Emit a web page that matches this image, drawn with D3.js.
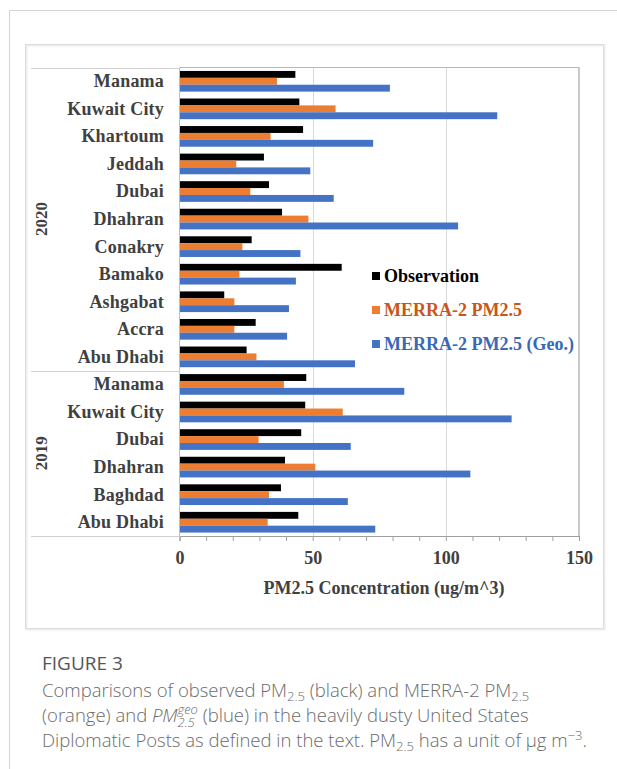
<!DOCTYPE html>
<html>
<head>
<meta charset="utf-8">
<script src="https://cdn.jsdelivr.net/npm/d3@7"></script>
<style>
  body { margin: 0; background: #fff; }
  svg text { white-space: pre; }
</style>
</head>
<body>
<svg id="fig" width="617" height="769"></svg>
<script>
// values (ug/m^3), rows top -> bottom
var cities = ["Manama", "Kuwait City", "Khartoum", "Jeddah", "Dubai", "Dhahran", "Conakry", "Bamako",
  "Ashgabat", "Accra", "Abu Dhabi", "Manama", "Kuwait City", "Dubai", "Dhahran", "Baghdad", "Abu Dhabi"];
var years = ["2020", "2020", "2020", "2020", "2020", "2020", "2020", "2020", "2020", "2020", "2020",
  "2019", "2019", "2019", "2019", "2019", "2019"];
var observation = [43.5, 45.0, 46.4, 31.7, 33.6, 38.5, 27.1, 60.9, 16.8, 28.6, 25.2, 47.6, 47.2, 45.7, 39.6, 38.1, 44.6];
var merra = [36.6, 58.6, 34.2, 21.3, 26.6, 48.4, 23.6, 22.5, 20.6, 20.6, 28.9, 39.2, 61.3, 29.7, 51.0, 33.6, 33.1];
var merraGeo = [79.0, 119.3, 72.7, 49.1, 57.9, 104.6, 45.4, 43.7, 41.1, 40.4, 65.9, 84.4, 124.7, 64.3, 109.2, 63.2, 73.5];
var seriesNames = ["Observation", "MERRA-2 PM2.5", "MERRA-2 PM2.5 (Geo.)"];
var xTicks = [0, 50, 100, 150];

var seriesColors = ["#000000", "#ed7d31", "#4472c4"];
var legendColors = ["#000000", "#c9561a", "#3a68b9"];
var serif = "'Liberation Serif', 'Times New Roman', serif";

var svg = d3.select("#fig");

// page frame + chart container
svg.append("path").attr("d", "M9.5,769 V10.5 H617").attr("fill", "none").attr("stroke", "#d4d4d4");
svg.append("rect").attr("x", 26.5).attr("y", 45.5).attr("width", 578).attr("height", 584)
  .attr("fill", "none").attr("stroke", "#eeeeee").attr("stroke-width", 2);
svg.append("rect").attr("x", 25.5).attr("y", 44.5).attr("width", 578).attr("height", 584)
  .attr("fill", "none").attr("stroke", "#dcdcdc");

var plot = { left: 179.5, right: 579, top: 67.5, bottom: 536 };

var x = d3.scaleLinear().domain([0, 150]).range([plot.left, plot.right]);
var rowKeys = cities.map(function(c, i) { return i; });
var y = d3.scaleBand().domain(rowKeys).range([plot.top, plot.bottom])
  .paddingInner(0.25).paddingOuter(0.125);
var ySeries = d3.scaleBand().domain([0, 1, 2]).range([0, y.bandwidth()]);

// gridlines
svg.append("g").selectAll("line").data([50, 100]).join("line")
  .attr("x1", function(d) { return Math.round(x(d)) + 0.5; })
  .attr("x2", function(d) { return Math.round(x(d)) + 0.5; })
  .attr("y1", plot.top).attr("y2", plot.bottom)
  .attr("stroke", "#d9d9d9");

// plot border
svg.append("line").attr("x1", plot.left).attr("x2", plot.right).attr("y1", plot.top).attr("y2", plot.top)
  .attr("stroke", "#b8b8b8");
svg.append("line").attr("x1", plot.right).attr("x2", plot.right).attr("y1", plot.top).attr("y2", plot.bottom)
  .attr("stroke", "#a6a6a6").attr("stroke-width", 1.2);

// bars
var allSeries = [observation, merra, merraGeo];
allSeries.forEach(function(vals, s) {
  svg.append("g").selectAll("rect").data(vals).join("rect")
    .attr("x", x(0))
    .attr("y", function(d, i) { return y(i) + ySeries(s); })
    .attr("width", function(d) { return x(d) - x(0); })
    .attr("height", ySeries.bandwidth())
    .attr("fill", seriesColors[s]);
});

// x axis, minor ticks every 10, labels at 0/50/100/150
var xAxis = d3.axisBottom(x).tickValues(d3.range(0, 151, 10)).tickSize(5)
  .tickFormat(function(d) { return xTicks.indexOf(d) >= 0 ? d : ""; });
var gx = svg.append("g").attr("transform", "translate(0," + plot.bottom + ")").call(xAxis);
gx.select(".domain").attr("stroke", "#a0a0a0");
gx.selectAll(".tick line").attr("stroke", "#a0a0a0");
gx.selectAll(".tick text").attr("y", 15).attr("dy", "0.71em")
  .style("font-family", serif).style("font-weight", "bold").style("font-size", "18px").attr("fill", "#404040");

svg.append("text").attr("x", 384).attr("y", 594).attr("text-anchor", "middle")
  .style("font-family", serif).style("font-weight", "bold").style("font-size", "18px").attr("fill", "#404040")
  .text("PM2.5 Concentration (ug/m^3)");

// left axis line
svg.append("line").attr("x1", plot.left).attr("x2", plot.left).attr("y1", plot.top).attr("y2", plot.bottom)
  .attr("stroke", "#bfbfbf");

// category labels
svg.append("g").selectAll("text").data(cities).join("text")
  .attr("x", 164)
  .attr("y", function(d, i) { return y(i) + y.bandwidth() / 2; })
  .attr("dy", "0.33em")
  .attr("text-anchor", "end")
  .style("font-family", serif).style("font-weight", "bold").style("font-size", "18px")
  .style("letter-spacing", "0.2px")
  .attr("fill", "#404040")
  .text(function(d) { return d; });

// year groups (multi-level axis)
var groups = [];
years.forEach(function(yr, i) {
  if (groups.length && groups[groups.length - 1].year === yr) groups[groups.length - 1].end = i;
  else groups.push({ year: yr, start: i, end: i });
});
var step = y.step();
var sepY = [plot.top];
groups.forEach(function(g) { sepY.push(plot.top + (g.end + 1) * step); });
svg.append("g").selectAll("line").data(sepY).join("line")
  .attr("x1", 31).attr("x2", plot.left)
  .attr("y1", function(d) { return Math.round(d) + 0.5; })
  .attr("y2", function(d) { return Math.round(d) + 0.5; })
  .attr("stroke", "#d0d0d0");
svg.append("g").selectAll("text").data(groups).join("text")
  .attr("transform", function(g) {
    var cy = plot.top + (g.start + g.end + 1) / 2 * step;
    return "translate(47," + cy + ") rotate(-90)";
  })
  .attr("text-anchor", "middle")
  .style("font-family", serif).style("font-weight", "bold").style("font-size", "17px")
  .attr("fill", "#404040")
  .text(function(g) { return g.year; });

// legend
var legendY = [276, 310, 344];
var lg = svg.append("g").selectAll("g").data(seriesNames).join("g")
  .attr("transform", function(d, i) { return "translate(372," + legendY[i] + ")"; });
lg.append("rect").attr("x", 0).attr("y", -4).attr("width", 8).attr("height", 8)
  .attr("fill", function(d, i) { return seriesColors[i]; });
lg.append("text").attr("x", 12).attr("dy", "0.35em")
  .style("font-family", serif).style("font-weight", "bold").style("font-size", "18px")
  .attr("fill", function(d, i) { return legendColors[i]; })
  .text(function(d) { return d; });

// caption
var capFont = "'Open Sans', 'Noto Sans', sans-serif";
svg.append("text").attr("x", 42).attr("y", 670)
  .style("font-family", capFont).style("font-size", "19px").attr("fill", "#555555")
  .text("FIGURE 3");

function richLine(yPos, parts) {
  var cx = 42, held = 0;
  var g = svg.append("g");
  parts.forEach(function(p) {
    var size = p.small ? 13 : 18.5;
    var t = g.append("text").attr("x", cx).attr("y", yPos + (p.dy || 0))
      .style("font-family", capFont).style("font-weight", 300)
      .style("font-size", size + "px").style("font-style", p.italic ? "italic" : "normal")
      .attr("fill", "#6b6b6b").text(p.t);
    var w = t.node().getComputedTextLength();
    if (p.hold) { held = w; return; }
    cx += Math.max(w, held);
    held = 0;
  });
}

richLine(697, [
  { t: "Comparisons of observed PM" }, { t: "2.5", small: true, dy: 4 },
  { t: " (black) and MERRA-2 PM" }, { t: "2.5", small: true, dy: 4 }
]);
richLine(722, [
  { t: "(orange) and " }, { t: "PM", italic: true },
  { t: "geo", italic: true, small: true, dy: -8, hold: true }, { t: "2.5", italic: true, small: true, dy: 5 },
  { t: " (blue) in the heavily dusty United States" }
]);
richLine(747, [
  { t: "Diplomatic Posts as defined in the text. PM" }, { t: "2.5", small: true, dy: 4 },
  { t: " has a unit of μg m" }, { t: "−3", small: true, dy: -7 }, { t: "." }
]);
</script>
</body>
</html>
